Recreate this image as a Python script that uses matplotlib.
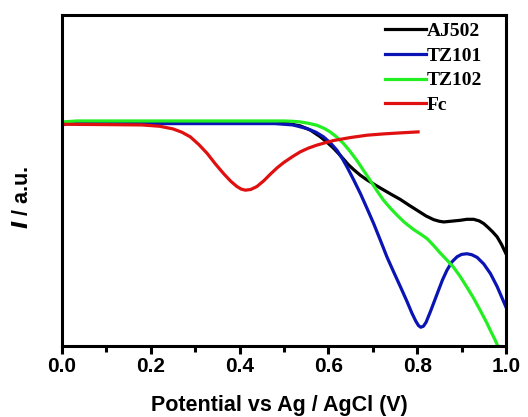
import matplotlib
matplotlib.use('Agg')
import matplotlib.pyplot as plt
from matplotlib.ticker import MultipleLocator

# curves (potential in V, current in arbitrary units)
aj502_x = [0.0, 0.1, 0.2, 0.3, 0.4, 0.48, 0.51, 0.537, 0.56, 0.582, 0.6, 0.612, 0.624, 0.634, 0.645,
           0.657, 0.672, 0.687, 0.705, 0.724, 0.742, 0.762, 0.78, 0.80, 0.82, 0.837, 0.85, 0.86,
           0.875, 0.897, 0.912, 0.927, 0.94, 0.95, 0.96, 0.97, 0.98, 0.99, 1.0]
aj502_y = [0.674, 0.674, 0.674, 0.674, 0.674, 0.674, 0.672, 0.665, 0.652, 0.632, 0.612, 0.597, 0.580,
           0.565, 0.548, 0.533, 0.516, 0.502, 0.487, 0.472, 0.458, 0.443, 0.427, 0.410, 0.393,
           0.382, 0.377, 0.375, 0.377, 0.380, 0.383, 0.383, 0.378, 0.370, 0.358, 0.345, 0.330,
           0.307, 0.279]

tz101_x = [0.0, 0.011, 0.1, 0.2, 0.3, 0.4, 0.48, 0.52, 0.552, 0.572, 0.589, 0.605, 0.619, 0.632,
           0.642, 0.657, 0.672, 0.687, 0.702, 0.717, 0.732, 0.747, 0.762, 0.777, 0.788, 0.797,
           0.803, 0.808, 0.814, 0.82, 0.83, 0.845, 0.857, 0.867, 0.878, 0.89, 0.9, 0.912, 0.923,
           0.935, 0.95, 0.965, 0.98, 1.0]
tz101_y = [0.667, 0.672, 0.672, 0.672, 0.672, 0.672, 0.672, 0.668, 0.657, 0.646, 0.632, 0.613, 0.592,
           0.565, 0.541, 0.502, 0.461, 0.416, 0.370, 0.320, 0.269, 0.224, 0.180, 0.135, 0.100,
           0.075, 0.062, 0.057, 0.060, 0.072, 0.105, 0.158, 0.200, 0.229, 0.254, 0.270, 0.277,
           0.279, 0.276, 0.268, 0.248, 0.219, 0.180, 0.118]

tz102_x = [0.0, 0.034, 0.1, 0.2, 0.3, 0.4, 0.5, 0.52, 0.537, 0.555, 0.574, 0.59, 0.604, 0.62,
           0.634, 0.649, 0.664, 0.679, 0.694, 0.709, 0.724, 0.74, 0.755, 0.772, 0.792, 0.808,
           0.822, 0.837, 0.852, 0.867, 0.882, 0.897, 0.912, 0.927, 0.942, 0.955, 0.965, 0.975, 0.985]
tz102_y = [0.677, 0.680, 0.680, 0.680, 0.680, 0.680, 0.680, 0.679, 0.677, 0.673, 0.667, 0.658, 0.647,
           0.630, 0.612, 0.588, 0.561, 0.531, 0.501, 0.470, 0.441, 0.416, 0.395, 0.373, 0.352,
           0.338, 0.325, 0.304, 0.281, 0.260, 0.238, 0.210, 0.178, 0.145, 0.108, 0.075, 0.047,
           0.020, -0.01]

fc_x = [0.0, 0.1, 0.18, 0.22, 0.25, 0.27, 0.289, 0.308, 0.327, 0.345, 0.364, 0.38, 0.394, 0.404,
        0.413, 0.425, 0.439, 0.455, 0.469, 0.485, 0.5, 0.52, 0.537, 0.555, 0.574, 0.595, 0.612,
        0.65, 0.687, 0.725, 0.762, 0.802]
fc_y = [0.670, 0.669, 0.668, 0.664, 0.656, 0.646, 0.632, 0.609, 0.582, 0.551, 0.521, 0.498, 0.482,
        0.474, 0.471, 0.473, 0.482, 0.500, 0.519, 0.539, 0.555, 0.573, 0.587, 0.598, 0.607, 0.615,
        0.621, 0.630, 0.637, 0.641, 0.644, 0.647]

series = [
    ('AJ502', aj502_x, aj502_y, 'black'),
    ('TZ101', tz101_x, tz101_y, '#0a14b4'),
    ('TZ102', tz102_x, tz102_y, '#22ee22'),
    ('Fc', fc_x, fc_y, '#e01010'),
]

fig = plt.figure(figsize=(5.28, 4.17), dpi=100)
ax = fig.add_axes([0.1174, 0.170, 0.8409, 0.794])

for name, xs, ys, col in series:
    ax.plot(xs, ys, color=col, lw=2.3, label=name)

ax.set_xlim(0, 1.0)
ax.set_ylim(0, 1.0)

for s in ax.spines.values():
    s.set_linewidth(2.2)

ax.xaxis.set_major_locator(MultipleLocator(0.2))
ax.xaxis.set_minor_locator(MultipleLocator(0.1))
ax.tick_params(axis='x', which='major', direction='out', length=6, width=2.2,
               labelsize=15, pad=1.5)
ax.tick_params(axis='x', which='minor', direction='out', length=4, width=2.2)
ax.set_yticks([])
for lab in ax.get_xticklabels():
    lab.set_fontweight('bold')
    lab.set_family('Liberation Sans')

ax.set_xlabel('Potential vs Ag / AgCl (V)', fontsize=15.5, fontweight='bold',
              family='Liberation Sans', va='center')
ax.xaxis.set_label_coords(0.49, -0.178)
ax.set_ylabel(r'$\mathbfit{I}$ / a.u.', fontsize=15.5, fontweight='bold',
              family='Liberation Sans', va='center')
ax.yaxis.set_label_coords(-0.09, 0.45)

# legend (no frame), lines then labels, top right corner
leg = ax.legend(loc='upper left', bbox_to_anchor=(0.728, 0.977), frameon=False,
                handlelength=2.1, handletextpad=0.05, labelspacing=0.36,
                borderaxespad=0, borderpad=0,
                prop={'family': 'Liberation Serif', 'weight': 'bold', 'size': 14})

fig.savefig('out.png', dpi=100)
